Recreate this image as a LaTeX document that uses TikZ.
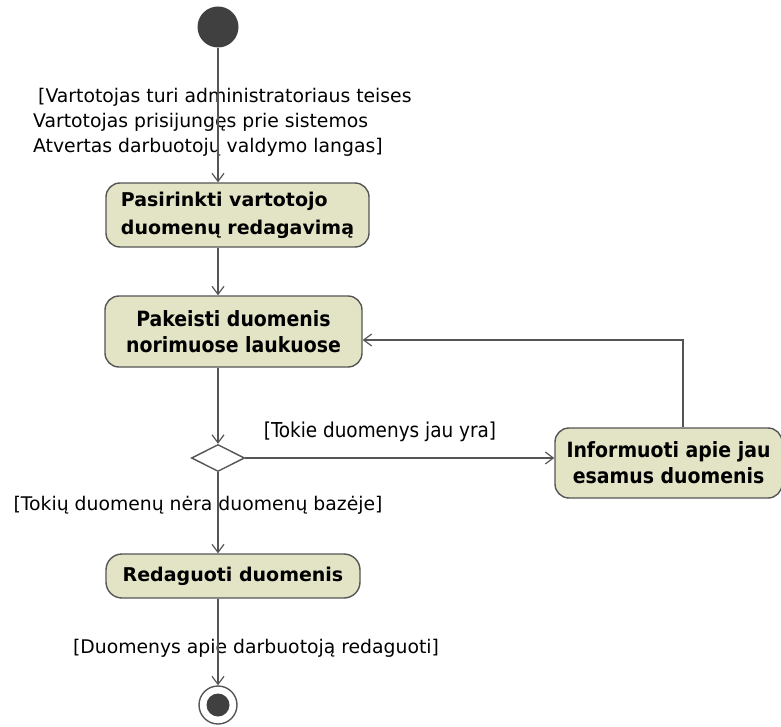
\documentclass[tikz,border=0pt]{standalone}
\usepackage{fontspec}
\setmainfont{DejaVu Sans}
\newfontfamily\condfont{DejaVu Sans Condensed}
\usetikzlibrary{arrows.meta,shapes.geometric}

\definecolor{actfill}{RGB}{227,227,198}
\definecolor{lineclr}{RGB}{85,85,85}
\definecolor{dotclr}{RGB}{64,64,64}

\newcommand{\guardsize}{\fontsize{18.8}{25}\selectfont}

\tikzset{
  action/.style={rectangle, rounded corners=14pt, draw=lineclr, line width=1.4pt,
    fill=actfill, inner sep=0, font=\fontsize{19}{28}\selectfont\bfseries},
  condaction/.style={action, font=\condfont\fontsize{21}{26}\selectfont\bfseries},
  guard/.style={inner sep=0, font=\guardsize},
  flow/.style={->, draw=lineclr, line width=1.2pt}
}

\begin{document}
\begin{tikzpicture}[x=1pt, y=-1pt, >={Straight Barb[length=8pt,width=12pt]}]
  \useasboundingbox (0,0) rectangle (781,727);

  % start and end
  \node[circle, fill=dotclr, minimum size=41pt, inner sep=0] (start) at (218, 27) {};
  \node[circle, draw=lineclr, line width=1.4pt, fill=white, minimum size=38pt, inner sep=0] (final) at (218, 705) {};
  \node[circle, fill=dotclr, minimum size=23pt, inner sep=0] (finaldot) at (final.center) {};

  % actions
  \node[action, align=left, minimum width=263pt, minimum height=64pt] (choose) at (237.5, 215)
    {Pasirinkti vartotojo\\duomenų redagavimą};
  \node[condaction, align=center, minimum width=257pt, minimum height=71pt] (change) at (233.5, 331.5)
    {Pakeisti duomenis\\norimuose laukuose};
  \node[diamond, draw=lineclr, line width=1.4pt, fill=white, minimum width=53pt, minimum height=27pt,
    inner sep=0] (decide) at (218, 458) {};
  \node[condaction, align=center, minimum width=227pt, minimum height=70pt] (inform) at (668.5, 463)
    {Informuoti apie jau\\esamus duomenis};
  \node[action, rounded corners=16pt, minimum width=254pt, minimum height=44pt] (edit) at (233, 576)
    {Redaguoti duomenis};

  % guards
  \node[guard, align=left, anchor=west] (pre) at (33, 122)
    {\hspace*{5pt}[Vartotojas turi administratoriaus teises\\Vartotojas prisijungęs prie sistemos\\Atvertas darbuotojų valdymo langas]};
  \node[guard, font=\condfont\fontsize{20.5}{25}\selectfont] (exists) at (380, 432) {[Tokie duomenys jau yra]};
  \node[guard] (missing) at (198, 505) {[Tokių duomenų nėra duomenų bazėje]};
  \node[guard] (done) at (256, 648) {[Duomenys apie darbuotoją redaguoti]};

  % flows
  \coordinate (loop) at (683, 340);
  \draw[flow] (start) -- (start |- choose.north);
  \draw[flow] (choose.south -| start) -- (change.north -| start);
  \draw[flow] (change.south -| start) -- (decide.north);
  \draw[flow] (decide.east) -- (decide -| inform.west);
  \draw[flow] (inform.north -| loop) |- (loop -| change.east);
  \draw[flow] (decide.south) -- (edit.north -| start);
  \draw[flow] (edit.south -| start) -- (final.north);
\end{tikzpicture}
\end{document}
